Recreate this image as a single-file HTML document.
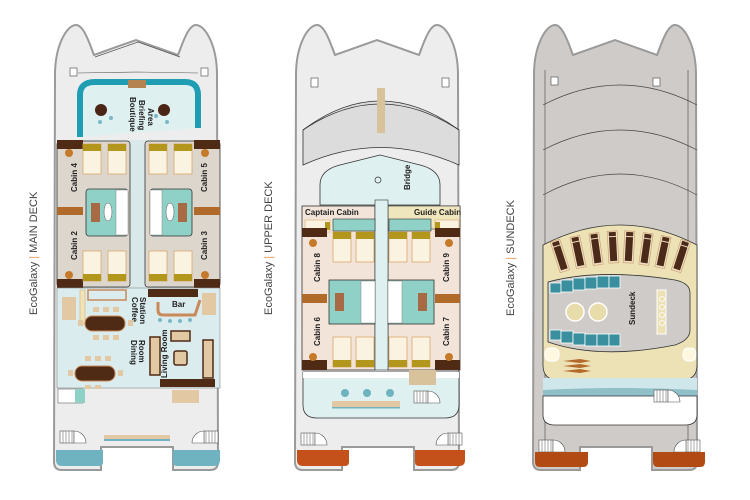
<!DOCTYPE html>
<html><head><meta charset="utf-8"><style>
html,body{margin:0;padding:0;background:#fff;width:750px;height:500px;overflow:hidden}
svg{display:block}
text{font-family:"Liberation Sans",sans-serif}
.lb{font-size:8px;font-weight:bold;fill:#222}
.dk{font-size:11px;fill:#444}
</style></head><body>
<svg width="750" height="500" viewBox="0 0 750 500" xmlns="http://www.w3.org/2000/svg">
<defs>
<path id="hull" d="M4,75 C4,45 16,25 25,25 C33,25 39,45 43,55 L85,40 L127,55 C131,45 137,25 145,25 C154,25 166,45 166,75 L167,462 Q167,470 159,470 L122,470 L122,447 L50,447 L50,470 L11,470 Q3,470 3,462 Z"/>
<g id="bed"><rect x="0" y="0" width="18" height="30" fill="#fbf3e2" stroke="#d9a86a" stroke-width="0.8"/><rect x="0" y="0" width="18" height="7" fill="#b3961c"/></g>
<g id="bedb"><rect x="0" y="0" width="18" height="30" fill="#fbf3e2" stroke="#d9a86a" stroke-width="0.8"/><rect x="0" y="23" width="18" height="7" fill="#b3961c"/></g>
<g id="lounger"><rect x="-5" y="-16" width="10" height="32" fill="#f0dcc0" stroke="#c99b6a" stroke-width="0.6"/><rect x="-3.5" y="-10" width="7" height="24" fill="#4a2a18"/><rect x="-3.5" y="-15" width="7" height="4" fill="#4a2a18"/></g>
<g id="stairL"><rect x="0" y="0" width="14" height="12" fill="#fff" stroke="#555" stroke-width="0.6"/><path d="M3,0v12M6,0v12M9,0v12M12,0v12" stroke="#555" stroke-width="0.5"/><path d="M14,0 A12,12 0 0 1 26,12 L14,12Z" fill="#fff" stroke="#555" stroke-width="0.6"/></g>
</defs>

<!-- Labels -->
<text class="dk" transform="translate(37,315) rotate(-90)">EcoGalaxy <tspan fill="#e59a5a">|</tspan> MAIN DECK</text>
<text class="dk" transform="translate(272,315) rotate(-90)">EcoGalaxy <tspan fill="#e59a5a">|</tspan> UPPER DECK</text>
<text class="dk" transform="translate(514,316) rotate(-90)">EcoGalaxy <tspan fill="#e59a5a">|</tspan> SUNDECK</text>

<!-- ============ MAIN DECK ============ -->
<use href="#hull" transform="translate(51,0)" fill="#ededed" stroke="#9a9a9a" stroke-width="2"/>
<path d="M95,57 L138,42 L180,57" fill="none" stroke="#555" stroke-width="0.8"/>
<path d="M78,73 L138,72 L198,73" fill="none" stroke="#555" stroke-width="0.6"/>
<rect x="70" y="68" width="7" height="8" fill="#fff" stroke="#444" stroke-width="0.6"/>
<rect x="201" y="68" width="7" height="8" fill="#fff" stroke="#444" stroke-width="0.6"/>
<!-- briefing -->
<path d="M80,137 L80,95 Q80,82 95,82 L185,82 Q198,82 198,95 L198,128" fill="#dff0f0" stroke="#1f9db2" stroke-width="6"/>
<rect x="128" y="80" width="18" height="8" fill="#b5834f"/>
<circle cx="101" cy="110" r="6" fill="#4a2414"/><circle cx="164" cy="110" r="6" fill="#4a2414"/>
<circle cx="100" cy="122" r="2" fill="#7bb7c7"/><circle cx="111" cy="118" r="2" fill="#7bb7c7"/><circle cx="156" cy="116" r="2" fill="#7bb7c7"/><circle cx="167" cy="122" r="2" fill="#7bb7c7"/>
<text class="lb" transform="translate(130,97) rotate(90)">Boutique</text>
<text class="lb" transform="translate(139,100) rotate(90)">Briefing</text>
<text class="lb" transform="translate(148,108) rotate(90)">Area</text>
<!-- cabin block -->
<rect x="57" y="140" width="163" height="148" fill="#d9e9ea"/>
<rect x="57" y="141" width="73" height="146" rx="3" fill="#dcd6cd" stroke="#333" stroke-width="0.8"/>
<rect x="145" y="141" width="75" height="146" rx="3" fill="#dcd6cd" stroke="#333" stroke-width="0.8"/>
<rect x="57" y="140" width="26" height="9" fill="#4f2a14"/><rect x="194" y="140" width="26" height="9" fill="#4f2a14"/>
<rect x="57" y="279" width="26" height="9" fill="#4f2a14"/><rect x="194" y="279" width="26" height="9" fill="#4f2a14"/>
<rect x="57" y="207" width="26" height="8" fill="#b06a2a"/><rect x="194" y="207" width="26" height="8" fill="#b06a2a"/>
<rect x="86" y="189" width="42" height="47" rx="3" fill="#8fd1c6" stroke="#333" stroke-width="0.8"/>
<rect x="150" y="189" width="42" height="47" rx="3" fill="#8fd1c6" stroke="#333" stroke-width="0.8"/>
<rect x="116" y="190" width="12" height="45" fill="#fff" stroke="#888" stroke-width="0.5"/><rect x="150" y="190" width="12" height="45" fill="#fff" stroke="#888" stroke-width="0.5"/>
<rect x="91" y="203" width="9" height="19" fill="#a86a44"/><rect x="178" y="203" width="9" height="19" fill="#a86a44"/>
<ellipse cx="108" cy="212" rx="4" ry="9" fill="#fff" stroke="#555" stroke-width="0.5"/><ellipse cx="170" cy="212" rx="4" ry="9" fill="#fff" stroke="#555" stroke-width="0.5"/>
<use href="#bed" x="83" y="144"/><use href="#bed" x="108" y="144"/><use href="#bed" x="149" y="144"/><use href="#bed" x="174" y="144"/>
<use href="#bedb" x="83" y="251"/><use href="#bedb" x="108" y="251"/><use href="#bedb" x="149" y="251"/><use href="#bedb" x="174" y="251"/>
<circle cx="69" cy="153" r="4" fill="#c47a2a"/><circle cx="205" cy="153" r="4" fill="#c47a2a"/><circle cx="69" cy="275" r="4" fill="#c47a2a"/><circle cx="205" cy="275" r="4" fill="#c47a2a"/>
<text class="lb" transform="translate(77,192) rotate(-90)">Cabin 4</text>
<text class="lb" transform="translate(77,260) rotate(-90)">Cabin 2</text>
<text class="lb" transform="translate(207,192) rotate(-90)">Cabin 5</text>
<text class="lb" transform="translate(207,260) rotate(-90)">Cabin 3</text>
<!-- lower public -->
<rect x="57" y="288" width="163" height="100" fill="#dbecee" stroke="#888" stroke-width="0.6"/>
<rect x="62" y="297" width="14" height="23" fill="#e3c9a3"/><rect x="80" y="290" width="5" height="34" fill="#f1e3b5" stroke="#c9a870" stroke-width="0.5"/>
<rect x="88" y="290" width="38" height="10" fill="none" stroke="#c98a5a" stroke-width="1.5"/>
<rect x="148" y="289" width="50" height="8" fill="#4f2a14"/>
<path d="M158,302 L158,310 Q158,315 163,315 L195,315 L200,300" fill="none" stroke="#c98a5a" stroke-width="3"/>
<rect x="202" y="293" width="14" height="22" fill="#e3c9a3"/>
<circle cx="160" cy="320" r="2" fill="#7bb7c7"/><circle cx="170" cy="321" r="2" fill="#7bb7c7"/><circle cx="180" cy="321" r="2" fill="#7bb7c7"/><circle cx="190" cy="320" r="2" fill="#7bb7c7"/>
<text class="lb" x="172" y="307">Bar</text>
<text class="lb" transform="translate(132,297) rotate(90)">Coffee</text>
<text class="lb" transform="translate(140,297) rotate(90)">Station</text>
<rect x="85" y="316" width="40" height="15" rx="7" fill="#4f2a14" stroke="#c98a5a"/>
<rect x="75" y="366" width="40" height="15" rx="7" fill="#4f2a14" stroke="#c98a5a"/>
<g fill="#e3c9a3"><rect x="93" y="307" width="6" height="5"/><rect x="103" y="307" width="6" height="5"/><rect x="113" y="307" width="6" height="5"/><rect x="93" y="335" width="6" height="5"/><rect x="103" y="335" width="6" height="5"/><rect x="113" y="335" width="6" height="5"/><rect x="78" y="320" width="5" height="6"/><rect x="128" y="320" width="5" height="6"/>
<rect x="85" y="356" width="6" height="5"/><rect x="95" y="356" width="6" height="5"/><rect x="105" y="356" width="6" height="5"/><rect x="85" y="385" width="6" height="4"/><rect x="95" y="385" width="6" height="4"/><rect x="68" y="370" width="5" height="6"/><rect x="118" y="370" width="5" height="6"/></g>
<text class="lb" transform="translate(131,340) rotate(90)">Dining</text>
<text class="lb" transform="translate(139,340) rotate(90)">Room</text>
<rect x="150" y="337" width="10" height="38" fill="#e3c9a3" stroke="#4f2a14" stroke-width="1.5"/>
<rect x="203" y="340" width="10" height="38" fill="#e3c9a3" stroke="#4f2a14" stroke-width="1.5"/>
<rect x="171" y="331" width="19" height="10" fill="#e3c9a3" stroke="#4f2a14" stroke-width="1.5"/>
<rect x="174" y="351" width="13" height="14" rx="2" fill="#e3c9a3" stroke="#4f2a14" stroke-width="1.5"/>
<text class="lb" transform="translate(167,378) rotate(-90)">Living Room</text>
<rect x="160" y="379" width="55" height="8" fill="#4f2a14"/>
<rect x="58" y="389" width="25" height="14" fill="#fff" stroke="#666" stroke-width="0.6"/><rect x="75" y="389" width="10" height="14" fill="#8fd1c6"/>
<rect x="172" y="390" width="27" height="13" fill="#e3c9a3"/>
<use href="#stairL" x="60" y="431"/><use href="#stairL" transform="translate(218,431) scale(-1,1)"/>
<rect x="104" y="435" width="66" height="4" fill="#e3c9a3"/><rect x="104" y="439" width="66" height="2" fill="#6fb3c0"/>
<path d="M56,450 L103,450 L103,462 Q103,466 99,466 L62,466 Q56,466 56,460Z" fill="#6fb3c0"/>
<path d="M173,450 L220,450 L220,460 Q220,466 214,466 L177,466 Q173,466 173,462Z" fill="#6fb3c0"/>

<!-- ============ UPPER DECK ============ -->
<use href="#hull" transform="translate(292,0)" fill="#ededed" stroke="#9a9a9a" stroke-width="2"/>
<rect x="311" y="78" width="7" height="9" fill="#fff" stroke="#444" stroke-width="0.6"/><rect x="442" y="78" width="7" height="9" fill="#fff" stroke="#444" stroke-width="0.6"/>
<path d="M303,130 Q380,72 459,130 L459,165 Q380,130 303,165Z" fill="#dcdcdc" stroke="#333" stroke-width="0.8"/>
<path d="M303,130 Q380,78 459,130" fill="none" stroke="#333" stroke-width="0.8"/>
<rect x="377" y="88" width="8" height="45" fill="#d8c29c"/>
<path d="M320,205 L320,185 Q320,170 340,165 L380,155 L420,165 Q440,170 440,185 L440,205Z" fill="#dff0f0" stroke="#333" stroke-width="0.8"/>
<text class="lb" transform="translate(410,190) rotate(-90)" font-size="9">Bridge</text>
<circle cx="378" cy="180" r="3" fill="none" stroke="#333" stroke-width="0.7"/>
<rect x="302" y="206" width="73" height="164" fill="#f3e4da" stroke="#333" stroke-width="0.8"/>
<rect x="388" y="206" width="72" height="164" fill="#f3e4da" stroke="#333" stroke-width="0.8"/>
<rect x="388" y="206" width="72" height="23" fill="#f0e6bd" stroke="#333" stroke-width="0.6"/>
<rect x="375" y="200" width="13" height="170" fill="#dff0f0" stroke="#333" stroke-width="0.6"/>
<text class="lb" x="305" y="215">Captain Cabin</text>
<text class="lb" x="414" y="215">Guide Cabin</text>
<rect x="333" y="219" width="42" height="12" fill="#8fd1c6" stroke="#333" stroke-width="0.6"/>
<rect x="389" y="219" width="42" height="12" fill="#8fd1c6" stroke="#333" stroke-width="0.6"/>
<rect x="305" y="220" width="25" height="12" fill="#fbf3e2" stroke="#d9a86a" stroke-width="0.6"/><rect x="325" y="222" width="5" height="8" fill="#b3961c"/>
<rect x="435" y="220" width="24" height="12" fill="#fbf3e2" stroke="#d9a86a" stroke-width="0.6"/><rect x="435" y="222" width="5" height="8" fill="#b3961c"/>
<rect x="302" y="228" width="25" height="9" fill="#4f2a14"/><rect x="435" y="228" width="25" height="9" fill="#4f2a14"/>
<rect x="302" y="360" width="25" height="10" fill="#4f2a14"/><rect x="435" y="360" width="25" height="10" fill="#4f2a14"/>
<rect x="302" y="294" width="25" height="9" fill="#b06a2a"/><rect x="435" y="294" width="25" height="9" fill="#b06a2a"/>
<rect x="329" y="280" width="46" height="44" fill="#8fd1c6" stroke="#333" stroke-width="0.8"/>
<rect x="388" y="280" width="46" height="44" fill="#8fd1c6" stroke="#333" stroke-width="0.8"/>
<rect x="361" y="281" width="14" height="42" fill="#fff" stroke="#888" stroke-width="0.5"/><rect x="388" y="281" width="14" height="42" fill="#fff" stroke="#888" stroke-width="0.5"/>
<rect x="335" y="293" width="9" height="18" fill="#a86a44"/><rect x="418" y="293" width="9" height="18" fill="#a86a44"/>
<use href="#bed" x="333" y="232"/><use href="#bed" x="356" y="232"/><use href="#bed" x="389" y="232"/><use href="#bed" x="412" y="232"/>
<use href="#bedb" x="333" y="337"/><use href="#bedb" x="356" y="337"/><use href="#bedb" x="389" y="337"/><use href="#bedb" x="412" y="337"/>
<circle cx="313" cy="243" r="4" fill="#c47a2a"/><circle cx="449" cy="243" r="4" fill="#c47a2a"/><circle cx="313" cy="357" r="4" fill="#c47a2a"/><circle cx="449" cy="357" r="4" fill="#c47a2a"/>
<text class="lb" transform="translate(320,282) rotate(-90)">Cabin 8</text>
<text class="lb" transform="translate(320,346) rotate(-90)">Cabin 6</text>
<text class="lb" transform="translate(449,282) rotate(-90)">Cabin 9</text>
<text class="lb" transform="translate(449,346) rotate(-90)">Cabin 7</text>
<path d="M303,372 L459,372 L459,405 Q459,418 445,418 L317,418 Q303,418 303,405Z" fill="#dff0f0" stroke="#333" stroke-width="0.8"/>
<rect x="303" y="372" width="156" height="6" fill="#fff"/>
<rect x="409" y="370" width="27" height="15" fill="#d8c29c"/>
<circle cx="345" cy="393" r="4" fill="#6fb3c0"/><circle cx="367" cy="393" r="4" fill="#6fb3c0"/><circle cx="390" cy="393" r="4" fill="#6fb3c0"/>
<rect x="332" y="401" width="68" height="6" fill="#e3c9a3"/><rect x="332" y="407" width="68" height="1.5" fill="#6fb3c0"/>
<use href="#stairL" x="414" y="391"/>
<use href="#stairL" x="301" y="433"/><use href="#stairL" transform="translate(462,433) scale(-1,1)"/>
<path d="M297,450 L349,450 L349,462 Q349,466 345,466 L303,466 Q297,466 297,460Z" fill="#c4501a"/>
<path d="M415,450 L465,450 L465,460 Q465,466 459,466 L419,466 Q415,466 415,462Z" fill="#c4501a"/>

<!-- ============ SUNDECK ============ -->
<use href="#hull" transform="translate(530,0)" fill="#cfcbc8" stroke="#9a9a9a" stroke-width="2"/>
<path d="M545,70 L545,465 M688,70 L688,465" stroke="#444" stroke-width="0.6"/>
<rect x="551" y="77" width="7" height="8" fill="#fff" stroke="#444" stroke-width="0.6"/><rect x="653" y="78" width="7" height="8" fill="#fff" stroke="#444" stroke-width="0.6"/>
<path d="M543,105 Q620,65 697,105" fill="none" stroke="#444" stroke-width="0.7"/>
<path d="M543,150 Q620,110 697,150" fill="none" stroke="#444" stroke-width="0.7"/>
<path d="M543,195 Q620,153 697,195" fill="none" stroke="#444" stroke-width="0.7"/>
<path d="M543,245 Q620,205 697,245 L697,365 Q697,380 682,380 L558,380 Q543,380 543,365Z" fill="#ece2b5" stroke="#333" stroke-width="0.8"/>
<path d="M548,282 L548,342 Q600,360 675,345 Q690,340 690,330 L690,293 Q690,283 675,280 Q600,268 548,282Z" fill="#cfcbc8" stroke="#333" stroke-width="0.8"/>
<g fill="#3a8f9e" stroke="#fff" stroke-width="0.8">
<rect x="550" y="283" width="11" height="10"/><rect x="561" y="280" width="12" height="12"/><rect x="573" y="278" width="12" height="12"/><rect x="585" y="277" width="12" height="12"/><rect x="597" y="276" width="12" height="12"/><rect x="609" y="276" width="11" height="12"/>
<rect x="550" y="330" width="11" height="10"/><rect x="561" y="331" width="12" height="12"/><rect x="573" y="333" width="12" height="12"/><rect x="585" y="334" width="12" height="12"/><rect x="597" y="334" width="12" height="12"/><rect x="609" y="334" width="11" height="12"/></g>
<circle cx="575" cy="312" r="9" fill="#e8dcaa" stroke="#fff" stroke-width="1.5"/><circle cx="598" cy="312" r="9" fill="#e8dcaa" stroke="#fff" stroke-width="1.5"/>
<text class="lb" transform="translate(635,325) rotate(-90)" font-size="9">Sundeck</text>
<rect x="657" y="290" width="9" height="44" fill="#ece2b5" stroke="#fff"/>
<g fill="#ece2b5" stroke="#fff" stroke-width="0.8"><circle cx="662" cy="299" r="2.5"/><circle cx="662" cy="307" r="2.5"/><circle cx="662" cy="315" r="2.5"/><circle cx="662" cy="323" r="2.5"/></g>
<use href="#lounger" transform="translate(560,256) rotate(-18)"/><use href="#lounger" transform="translate(578,252) rotate(-12)"/>
<use href="#lounger" transform="translate(596,249) rotate(-8)"/><use href="#lounger" transform="translate(613,247) rotate(-3)"/>
<use href="#lounger" transform="translate(629,247) rotate(3)"/><use href="#lounger" transform="translate(646,249) rotate(8)"/>
<use href="#lounger" transform="translate(663,252) rotate(12)"/><use href="#lounger" transform="translate(681,256) rotate(18)"/>
<rect x="545" y="348" width="14" height="13" rx="5" fill="#fff8e0" stroke="#fff"/><rect x="683" y="348" width="13" height="13" rx="5" fill="#fff8e0" stroke="#fff"/>
<g fill="#b46a2a"><path d="M563,361 L580,359 L591,361 L580,363Z"/><path d="M563,366 L580,364 L591,366 L580,368Z"/><path d="M563,371 L580,369 L591,371 L580,373Z"/></g>
<path d="M543,378 L697,378 L697,395 L543,395Z" fill="#cfe6ea"/>
<path d="M543,390 Q620,386 697,390 L697,396 L543,396Z" fill="#8fbfc7"/>
<path d="M543,396 L697,396 L697,415 Q697,425 685,425 L555,425 Q543,425 543,415Z" fill="#fff" stroke="#333" stroke-width="0.8"/>
<use href="#stairL" x="654" y="390"/>
<use href="#stairL" x="539" y="440"/><use href="#stairL" transform="translate(700,440) scale(-1,1)"/>
<path d="M535,452 L588,452 L588,462 Q588,467 583,467 L540,467 Q535,467 535,462Z" fill="#b24a14"/>
<path d="M653,452 L705,452 L705,462 Q705,467 700,467 L658,467 Q653,467 653,462Z" fill="#b24a14"/>
</svg>
</body></html>
